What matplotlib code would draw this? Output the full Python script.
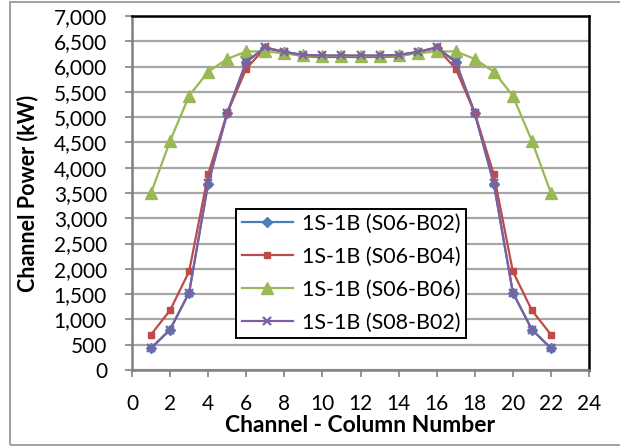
import matplotlib
matplotlib.use("Agg")
import matplotlib.pyplot as plt
from matplotlib.patches import Rectangle

channels = list(range(1, 23))
s06_b02 = [430, 800, 1530, 3680, 5080, 6090, 6370, 6290, 6230, 6210, 6210, 6210,
           6210, 6230, 6290, 6370, 6090, 5080, 3680, 1530, 800, 430]
s06_b04 = [700, 1180, 1950, 3870, 5080, 5960, 6370, 6280, 6200, 6190, 6190, 6190,
           6190, 6200, 6280, 6370, 5960, 5080, 3870, 1950, 1180, 700]
s06_b06 = [3500, 4530, 5420, 5900, 6150, 6300, 6300, 6260, 6220, 6210, 6210, 6210,
           6210, 6220, 6260, 6300, 6300, 6150, 5900, 5420, 4530, 3500]
s08_b02 = [430, 800, 1530, 3700, 5080, 6100, 6380, 6290, 6230, 6220, 6220, 6220,
           6220, 6230, 6290, 6380, 6100, 5080, 3700, 1530, 800, 430]
labels = ["1S-1B (S06-B02)", "1S-1B (S06-B04)", "1S-1B (S06-B06)", "1S-1B (S08-B02)"]
x_ticks = list(range(0, 25, 2))
y_ticks = list(range(0, 7001, 500))

plt.rcParams['font.family'] = ['Lato', 'DejaVu Sans']

fig = plt.figure(figsize=(6.2, 4.46), dpi=100)
ax = fig.add_axes([132 / 620, 76 / 446, 457 / 620, 354 / 446])

ax.plot(channels, s06_b02, color='#4a7ebb', marker='D', markersize=5.5, lw=1.6, label=labels[0])
ax.plot(channels, s06_b04, color='#be4b48', marker='s', markersize=4.5, lw=1.6, label=labels[1])
ax.plot(channels, s06_b06, color='#98b954', marker='^', markersize=9, lw=1.6, label=labels[2])
ax.plot(channels, s08_b02, color='#7d60a0', marker='x', markersize=5.5, mew=1.6, lw=1.6, label=labels[3])

ax.set_xlim(0, 24)
ax.set_ylim(0, 7000)
ax.set_xticks(x_ticks)
ax.set_yticks(y_ticks)
ax.set_yticklabels([f"{v:,}" for v in y_ticks])
ax.tick_params(axis='both', labelsize=15, direction='out', length=5, color='#808080', width=1.2)
ax.tick_params(axis='y', pad=13)
ax.tick_params(axis='x', pad=12)
ax.yaxis.grid(True, color='#a6a6a6', lw=1.6)
ax.set_axisbelow(True)
for s in ['left', 'bottom']:
    ax.spines[s].set_color('#808080')
    ax.spines[s].set_linewidth(1.8)
for s in ['top', 'right']:
    ax.spines[s].set_color('black')
    ax.spines[s].set_linewidth(1.8)

ax.set_xlabel("Channel - Column Number", fontsize=16.5, fontweight='bold', va='center')
ax.xaxis.set_label_coords(0.5, -56 / 354)
ax.set_ylabel("Channel Power (kW)", fontsize=15.5, fontweight='bold', va='center', ha='center')
ax.yaxis.set_label_coords(-104 / 457, 0.5)

leg = ax.legend(loc='lower left', bbox_to_anchor=(0.228, 0.090), borderaxespad=0, fontsize=15.5,
                frameon=True, fancybox=False, edgecolor='black', framealpha=1,
                handlelength=2.4, borderpad=0.25, labelspacing=0.6, handletextpad=0.4)
leg.get_frame().set_linewidth(1.4)

border = Rectangle((10 / 620, 1 / 446), 1.0, 443 / 446, transform=fig.transFigure,
                   fill=False, edgecolor='#a0a0a0', lw=1.4)
fig.patches.append(border)

fig.savefig("out.png", dpi=100)
